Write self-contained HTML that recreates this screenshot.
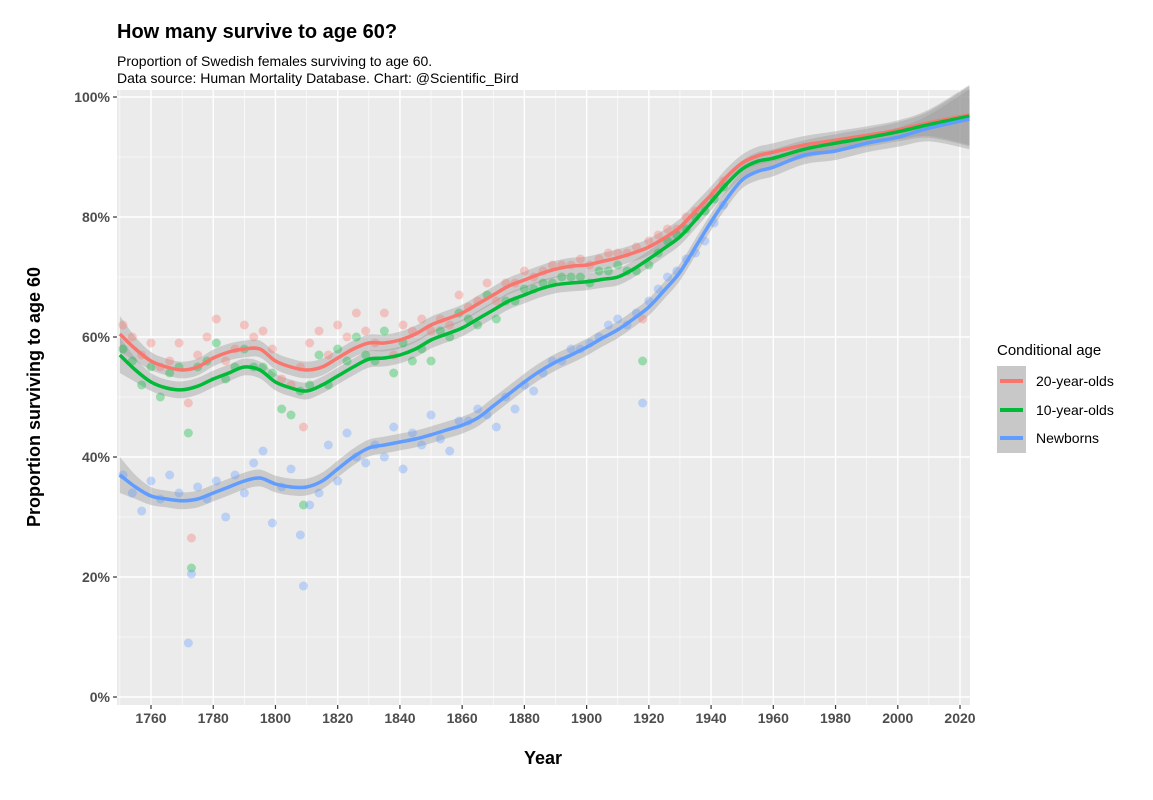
<!DOCTYPE html>
<html><head><meta charset="utf-8"><style>
body{margin:0;background:#fff;font-family:"Liberation Sans",sans-serif;}
svg text{font-family:"Liberation Sans",sans-serif;}
</style></head><body>
<svg id="c" width="1153" height="795" xmlns="http://www.w3.org/2000/svg">
<rect width="1153" height="795" fill="#fff"/>
<text x="117" y="38" font-size="20" font-weight="bold" fill="#000">How many survive to age 60?</text>
<text x="117" y="66" font-size="14" fill="#000">Proportion of Swedish females surviving to age 60.</text>
<text x="117" y="83" font-size="14" fill="#000">Data source: Human Mortality Database. Chart: @Scientific_Bird</text>
<rect x="117" y="90" width="853" height="615" fill="#ebebeb"/>
<g id="grid"></g><g id="ribbons"></g><g id="pts"></g><g id="lines"></g><g id="axes"></g>
<text x="543" y="764" font-size="18" font-weight="bold" text-anchor="middle">Year</text>
<text transform="translate(40,397) rotate(-90)" font-size="18" font-weight="bold" text-anchor="middle">Proportion surviving to age 60</text>
<g>
<text x="997" y="355" font-size="15">Conditional age</text>
<rect x="997" y="366" width="29" height="87" fill="#c8c8c8"/>
<line x1="1000" x2="1023" y1="381" y2="381" stroke="#F8766D" stroke-width="4"/>
<line x1="1000" x2="1023" y1="410" y2="410" stroke="#00BA38" stroke-width="4"/>
<line x1="1000" x2="1023" y1="438" y2="438" stroke="#619CFF" stroke-width="4"/>
<text x="1036" y="386" font-size="14">20-year-olds</text>
<text x="1036" y="415" font-size="14">10-year-olds</text>
<text x="1036" y="443" font-size="14">Newborns</text>
</g>
</svg>
<script>
const lineYears=[1750,1755,1760,1765,1770,1775,1780,1785,1790,1795,1800,1805,1810,1815,1820,1825,1830,1835,1840,1845,1850,1855,1860,1865,1870,1875,1880,1885,1890,1895,1900,1905,1910,1915,1920,1925,1930,1935,1940,1945,1950,1955,1960,1970,1980,1990,2000,2010,2023];
const line20=[60.5,58,56,55,54.5,55,56.5,57.5,58,58,56,55,54.5,55,56.5,58,59,59,59.5,60.5,62,63,64,65.5,67,68.5,69.5,70.5,71.3,71.8,72,72.6,73.2,74,75,76.5,78.3,81,83.7,86.7,89,90.2,90.8,92,92.8,93.6,94.5,95.7,97];
const line10=[57,54.5,52.5,51.5,51.2,51.8,53,54,55,54.5,52.5,51.5,51,52,53.5,55,56.3,56.5,57,58,59.5,60.5,61.5,63,64.5,66,67,68,68.7,69,69.2,69.6,70,71.3,73,74.8,76.7,79.5,82.5,85.5,88,89.3,89.8,91.3,92.3,93.2,94.2,95.4,96.8];
const lineNb=[37,35,33.5,33,32.7,33,34,35,36,36.5,35.5,35,35,36,38,40,41.5,42,42.5,43,43.7,44.5,45.3,46.5,48.5,50.5,52.5,54.3,55.8,57,58.3,59.8,61.2,63,65,67.8,70.8,75,79.2,83,86.2,87.6,88.3,90.3,91,92.3,93.3,94.8,96.3];
const seBand=[3,2,1.5,1.4,1.4,1.4,1.4,1.4,1.4,1.4,1.4,1.4,1.4,1.4,1.4,1.4,1.4,1.4,1.4,1.4,1.4,1.4,1.4,1.4,1.4,1.4,1.4,1.4,1.4,1.4,1.4,1.4,1.4,1.4,1.4,1.4,1.4,1.4,1.4,1.4,1.4,1.5,1.5,1.5,1.5,1.5,1.6,2.2,5];
const ptYears=[1751,1754,1757,1760,1763,1766,1769,1772,1773,1775,1778,1781,1784,1787,1790,1793,1796,1799,1802,1805,1808,1809,1811,1814,1817,1820,1823,1826,1829,1832,1835,1838,1841,1844,1847,1850,1853,1856,1859,1862,1865,1868,1871,1874,1877,1880,1883,1886,1889,1892,1895,1898,1901,1904,1907,1910,1913,1916,1918,1920,1923,1926,1929,1932,1935,1938,1941,1944];
const pts20=[62,60,57,59,55,56,59,49,26.5,57,60,63,56,58,62,60,61,58,53,52,55,45,59,61,57,62,60,64,61,59,64,57,62,61,63,61,63,62,67,65,66,69,66,69,69,71,70,71,72,72,72,73,72,73,74,74,74,75,63,76,77,78,78,80,81,82,84,86];
const pts10=[58,56,52,55,50,54,55,44,21.5,55,56,59,53,55,58,55,55,54,48,47,51,32,52,57,52,58,56,60,57,56,61,54,59,56,58,56,61,60,64,63,62,67,63,66,66,68,68,69,69,70,70,70,69,71,71,72,71,71,56,72,74,76,77,78,80,81,83,85];
const ptsNb=[37,34,31,36,33,37,34,9,20.5,35,33,36,30,37,34,39,41,29,35,38,27,18.5,32,34,42,36,44,40,39,42,40,45,38,44,42,47,43,41,46,46,48,47,45,50,48,52,51,54,56,56,58,58,59,60,62,63,62,64,49,66,68,70,71,73,74,76,79,82];
const xTicks=[1760,1780,1800,1820,1840,1860,1880,1900,1920,1940,1960,1980,2000,2020];
const yTicks=[0,20,40,60,80,100];
const NS="http://www.w3.org/2000/svg";
const X=y=>151+(y-1760)*809/260;
const Y=v=>697-v*6;
function mk(tag,attrs,parent){const e=document.createElementNS(NS,tag);for(const k in attrs)e.setAttribute(k,attrs[k]);document.getElementById(parent).appendChild(e);return e;}
for(let yr=1750;yr<=2020;yr+=10){const major=yr%20===0;
 const g=mk('line',{x1:X(yr),x2:X(yr),y1:90,y2:705,stroke:'#fff','stroke-width':major?1.4:0.6},'grid');
 
 }
for(let v=0;v<=100;v+=10){const major=v%20===0;
 const g=mk('line',{x1:117,x2:970,y1:Y(v),y2:Y(v),stroke:'#fff','stroke-width':major?1.4:0.6},'grid');
 
 }
xTicks.forEach(t=>{
 const l=mk('line',{x1:X(t),x2:X(t),y1:705,y2:709,stroke:'#333','stroke-width':1.2},'axes');
 
 
 const tx=mk('text',{x:X(t),y:723,'font-size':14,'font-weight':'bold','text-anchor':'middle',fill:'#4d4d4d'},'axes');tx.textContent=t;
 
 });
yTicks.forEach(t=>{
 const l=mk('line',{x1:113,x2:117,y1:Y(t),y2:Y(t),stroke:'#333','stroke-width':1.2},'axes');
 
 
 const tx=mk('text',{x:110,y:Y(t)+5,'font-size':14,'font-weight':'bold','text-anchor':'end',fill:'#4d4d4d'},'axes');tx.textContent=t+'%';
 
 });
function smoothPath(pts){let d='M'+pts[0][0]+','+pts[0][1];
 for(let i=0;i<pts.length-1;i++){const p0=pts[i-1]||pts[i],p1=pts[i],p2=pts[i+1],p3=pts[i+2]||p2;
  d+=' C'+(p1[0]+(p2[0]-p0[0])/6)+','+(p1[1]+(p2[1]-p0[1])/6)+' '+(p2[0]-(p3[0]-p1[0])/6)+','+(p2[1]-(p3[1]-p1[1])/6)+' '+p2[0]+','+p2[1];}
 return d;}
const series=[['20',line20,pts20,'#F8766D'],['10',line10,pts10,'#00BA38'],['newborns',lineNb,ptsNb,'#619CFF']];
series.forEach(([n,ln,pt,col])=>{
 const up=lineYears.map((y,i)=>[X(y),Y(ln[i]+seBand[i])]);
 const dn=lineYears.map((y,i)=>[X(y),Y(ln[i]-seBand[i])]).reverse();
 const r=mk('path',{d:smoothPath(up)+' L'+smoothPath(dn).slice(1)+' Z',fill:'#999','fill-opacity':0.4},'ribbons');
 
 
 ptYears.forEach((y,i)=>{
  const c=mk('circle',{cx:X(y),cy:Y(pt[i]),r:4.5,fill:col,'fill-opacity':0.35},'pts');
  
  });
 const l=mk('path',{d:smoothPath(lineYears.map((y,i)=>[X(y),Y(ln[i])])),fill:'none',stroke:col,'stroke-width':3.5},'lines');
 
 
});
</script>
</body></html>
